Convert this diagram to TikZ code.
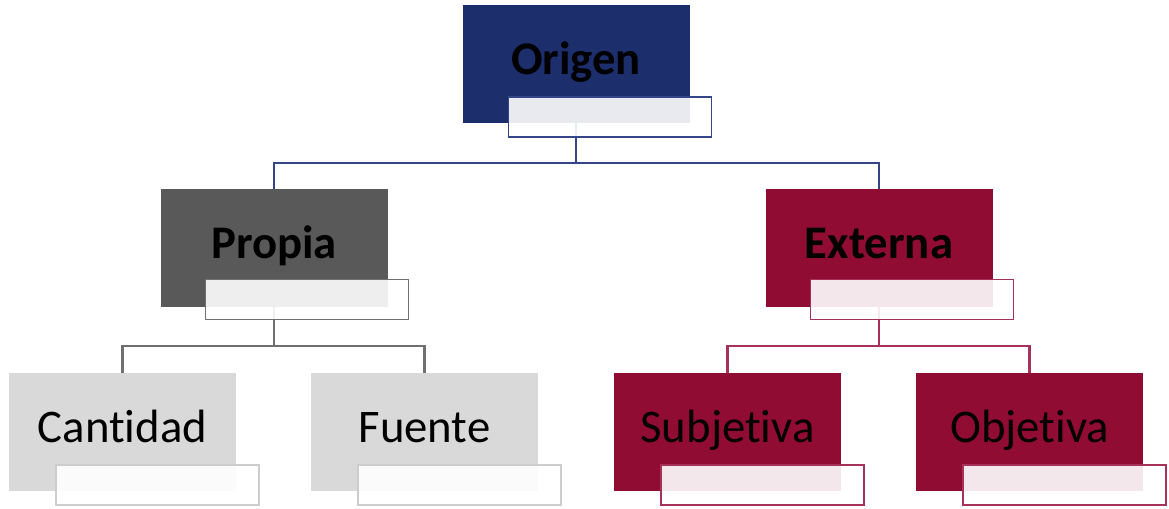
\documentclass[tikz,border=0pt]{standalone}
\usepackage{fontspec}
\setmainfont{Carlito}[Ligatures={NoCommon}]
\usepackage{tikz}
\usepackage{xcolor}
\usetikzlibrary{positioning}
\definecolor{navyfill}{RGB}{28,46,108}
\definecolor{navyline}{RGB}{52,70,135}
\definecolor{darkgreyfill}{RGB}{89,89,89}
\definecolor{darkgreyline}{RGB}{112,112,112}
\definecolor{lightgreyfill}{RGB}{217,217,217}
\definecolor{lightgreyline}{RGB}{205,205,205}
\definecolor{wine}{RGB}{144,12,51}
\definecolor{wineline}{RGB}{166,50,90}
\tikzstyle{block}    = [rectangle, minimum width=4.52cm, minimum height=2.34cm, inner sep=0pt,
                        text height=17.3pt, text depth=5.3pt, text centered, text=black,
                        font=\fontsize{26.6}{32}\selectfont]
\tikzstyle{headblock} = [block, font=\fontsize{26.6}{32}\selectfont\bfseries]
\tikzstyle{tag}      = [rectangle, minimum width=4.06cm, minimum height=0.8cm, inner sep=0pt,
                        fill=white, fill opacity=0.9, line width=0.85pt, anchor=north west]
\tikzstyle{link}     = [line width=1.2pt]

\begin{document}
\begin{tikzpicture}[x=0.02cm, y=-0.02cm]
    \useasboundingbox (0,0) rectangle (1169,508);
    % boxes
    \node (origen) [headblock, fill=navyfill, draw=navyfill] at (576,63.5) {Origen};
    \node (propia) [headblock, fill=darkgreyfill, draw=darkgreyfill] at (274,248) {Propia};
    \node (externa) [headblock, fill=wine, draw=wine] at (879,248) {Externa};
    \node (cantidad) [block, fill=lightgreyfill, draw=lightgreyfill] at (122.5,431.5) {Cantidad};
    \node (fuente) [block, fill=lightgreyfill, draw=lightgreyfill] at (424.5,431.5) {Fuente};
    \node (subjetiva) [block, fill=wine, draw=wine] at (727.5,431.5) {Subjetiva};
    \node (objetiva) [block, fill=wine, draw=wine] at (1029.5,431.5) {Objetiva};

    % connectors
    \draw[link, navyline] (origen.south) -- ++(0,41) -| (propia.north);
    \draw[link, navyline] (origen.south) -- ++(0,41) -| (externa.north);
    \draw[link, darkgreyline] (propia.south) -- ++(0,39) -| (cantidad.north);
    \draw[link, darkgreyline] (propia.south) -- ++(0,39) -| (fuente.north);
    \draw[link, wineline] (externa.south) -- ++(0,39) -| (subjetiva.north);
    \draw[link, wineline] (externa.south) -- ++(0,39) -| (objetiva.north);

    % tags
    \node (origentag) [tag, draw=navyline] at ([shift={(45,-26)}]origen.south west) {};
    \node (propiatag) [tag, draw=darkgreyline] at ([shift={(44,-28)}]propia.south west) {};
    \node (externatag) [tag, draw=wineline] at ([shift={(44,-28)}]externa.south west) {};
    \node (cantidadtag) [tag, draw=lightgreyline] at ([shift={(46,-26)}]cantidad.south west) {};
    \node (fuentetag) [tag, draw=lightgreyline] at ([shift={(46,-26)}]fuente.south west) {};
    \node (subjetivatag) [tag, draw=wineline] at ([shift={(46,-26)}]subjetiva.south west) {};
    \node (objetivatag) [tag, draw=wineline] at ([shift={(46,-26)}]objetiva.south west) {};
\end{tikzpicture}
\end{document}
